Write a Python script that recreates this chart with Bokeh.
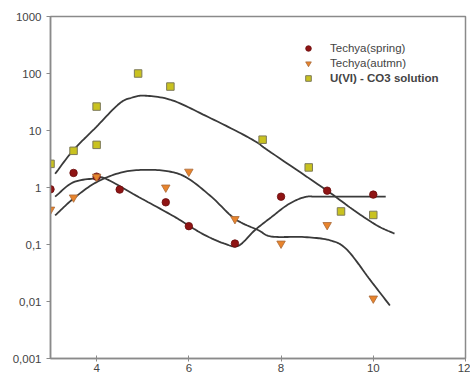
import numpy as np
from bokeh.plotting import figure
from bokeh.models import Range1d, FixedTicker, Legend, LegendItem
from bokeh.embed import file_html
from bokeh.resources import INLINE

# --- data ---
spring_x = [3, 3.5, 4, 4.5, 5.5, 6, 7, 8, 9, 10]
spring_y = [0.93, 1.8, 1.55, 0.92, 0.55, 0.21, 0.104, 0.69, 0.88, 0.75]

autumn_x = [3, 3.5, 4, 5.5, 6, 7, 8, 9, 10]
autumn_y = [0.41, 0.67, 1.55, 1.0, 1.9, 0.28, 0.104, 0.22, 0.0113]

u_x = [3, 3.5, 4, 4, 4.9, 5.6, 7.6, 8.6, 9.3, 10]
u_y = [2.6, 4.4, 5.6, 26.3, 100, 59, 6.9, 2.25, 0.38, 0.33]

# fitted curves (log10 of y)
fitU_x = [3.10, 3.49, 3.99, 4.49, 4.78, 5.07, 5.64, 6.36, 7.08, 7.5, 7.72, 8.97, 9.58, 10.09, 10.46]
fitU_l = [0.24, 0.65, 1.06, 1.47, 1.58, 1.61, 1.53, 1.26, 0.97, 0.78, 0.65, -0.04, -0.40, -0.67, -0.81]

fitS_x = [3.10, 3.49, 3.99, 4.21, 4.92, 5.64, 6.0, 6.36, 6.79, 7.08, 7.43, 7.79, 8.15, 8.51, 8.87, 10.27]
fitS_l = [-0.16, 0.09, 0.16, 0.15, -0.17, -0.49, -0.67, -0.84, -0.99, -1.02, -0.75, -0.52, -0.30, -0.17, -0.16, -0.16]

fitA_x = [3.10, 3.49, 3.99, 4.57, 5.14, 5.64, 6.0, 6.5, 7.0, 7.51, 7.79, 8.51, 9.08, 9.44, 9.94, 10.36]
fitA_l = [-0.49, -0.20, 0.09, 0.27, 0.31, 0.27, 0.15, -0.17, -0.55, -0.75, -0.86, -0.87, -0.93, -1.10, -1.63, -2.07]

y_ticks = [0.001, 0.01, 0.1, 1, 10, 100, 1000]
y_labels = ["0,001", "0,01", "0,1", "1", "10", "100", "1000"]
x_ticks = [4, 6, 8, 10, 12]

FONT = "Liberation Sans"
TXT = "#444444"
AX = "#8a8a8a"


def smooth(xs, ls, n=12):
    """Catmull-Rom interpolation through the read curve points (in log space)."""
    P = np.column_stack([xs, ls]).astype(float)
    P = np.vstack([2 * P[0] - P[1], P, 2 * P[-1] - P[-2]])
    out = []
    t = np.linspace(0, 1, n, endpoint=False)[:, None]
    for i in range(1, len(P) - 2):
        p0, p1, p2, p3 = P[i - 1], P[i], P[i + 1], P[i + 2]
        seg = 0.5 * ((2 * p1) + (-p0 + p2) * t + (2 * p0 - 5 * p1 + 4 * p2 - p3) * t ** 2
                     + (-p0 + 3 * p1 - 3 * p2 + p3) * t ** 3)
        out.append(seg)
    out.append(P[-2][None, :])
    S = np.vstack(out)
    return S[:, 0], 10 ** S[:, 1]


p = figure(width=470, height=374, y_axis_type="log",
           x_range=Range1d(3, 12), y_range=Range1d(0.001, 1000),
           output_backend="svg", toolbar_location=None,
           min_border_left=50, min_border_right=5, min_border_top=16, min_border_bottom=0)
p.background_fill_color = "white"
p.border_fill_color = "white"
p.grid.visible = False
p.outline_line_color = AX
p.outline_line_width = 1.5

# curves
for xs, ls in [(fitU_x, fitU_l), (fitS_x, fitS_l), (fitA_x, fitA_l)]:
    sx, sy = smooth(xs, ls)
    p.line(sx, sy, line_color="#3a3a3a", line_width=1.8)

r_s = p.scatter(spring_x, spring_y, marker="circle", size=7.5,
                fill_color="#8f1414", line_color="#6a0c0c", line_width=0.8)
r_a = p.scatter(autumn_x, autumn_y, marker="inverted_triangle", size=8.5,
                fill_color="#e8842c", line_color="#a86a3a", line_width=0.8)
r_u = p.scatter(u_x, u_y, marker="square", size=7.5,
                fill_color="#c9c21f", line_color="#7d7a5a", line_width=1)

# axes
p.yaxis.ticker = FixedTicker(ticks=y_ticks)
p.yaxis.major_label_overrides = {v: l for v, l in zip(y_ticks, y_labels)}
p.xaxis.ticker = FixedTicker(ticks=x_ticks)
for ax in (p.xaxis, p.yaxis):
    ax.axis_line_color = AX
    ax.axis_line_width = 1.5
    ax.major_tick_line_color = AX
    ax.minor_tick_line_color = None
    ax.major_label_text_font = FONT
    ax.major_label_text_font_size = "11.5px"
    ax.major_label_text_color = TXT
p.yaxis.major_tick_out = 4
p.yaxis.major_tick_in = 0
p.yaxis.major_label_standoff = 5
p.xaxis.major_tick_out = 3
p.xaxis.major_tick_in = 3
p.xaxis.major_label_standoff = 2


def make_legend(items, loc, style):
    lg = Legend(items=items, location=loc, orientation="vertical",
                border_line_color=None, background_fill_alpha=0,
                padding=0, margin=0, spacing=1,
                glyph_width=16, glyph_height=14, label_height=14,
                label_standoff=14, label_text_font=FONT,
                label_text_font_size="11.5px", label_text_color=TXT,
                label_text_font_style=style)
    p.add_layout(lg, "center")


make_legend([LegendItem(label="Techya(spring)", renderers=[r_s]),
             LegendItem(label="Techya(autmn)", renderers=[r_a])], (250, 288), "normal")
make_legend([LegendItem(label="U(VI) - CO3 solution", renderers=[r_u])], (250, 273), "bold")

open("out.html", "w").write(file_html(p, INLINE))
